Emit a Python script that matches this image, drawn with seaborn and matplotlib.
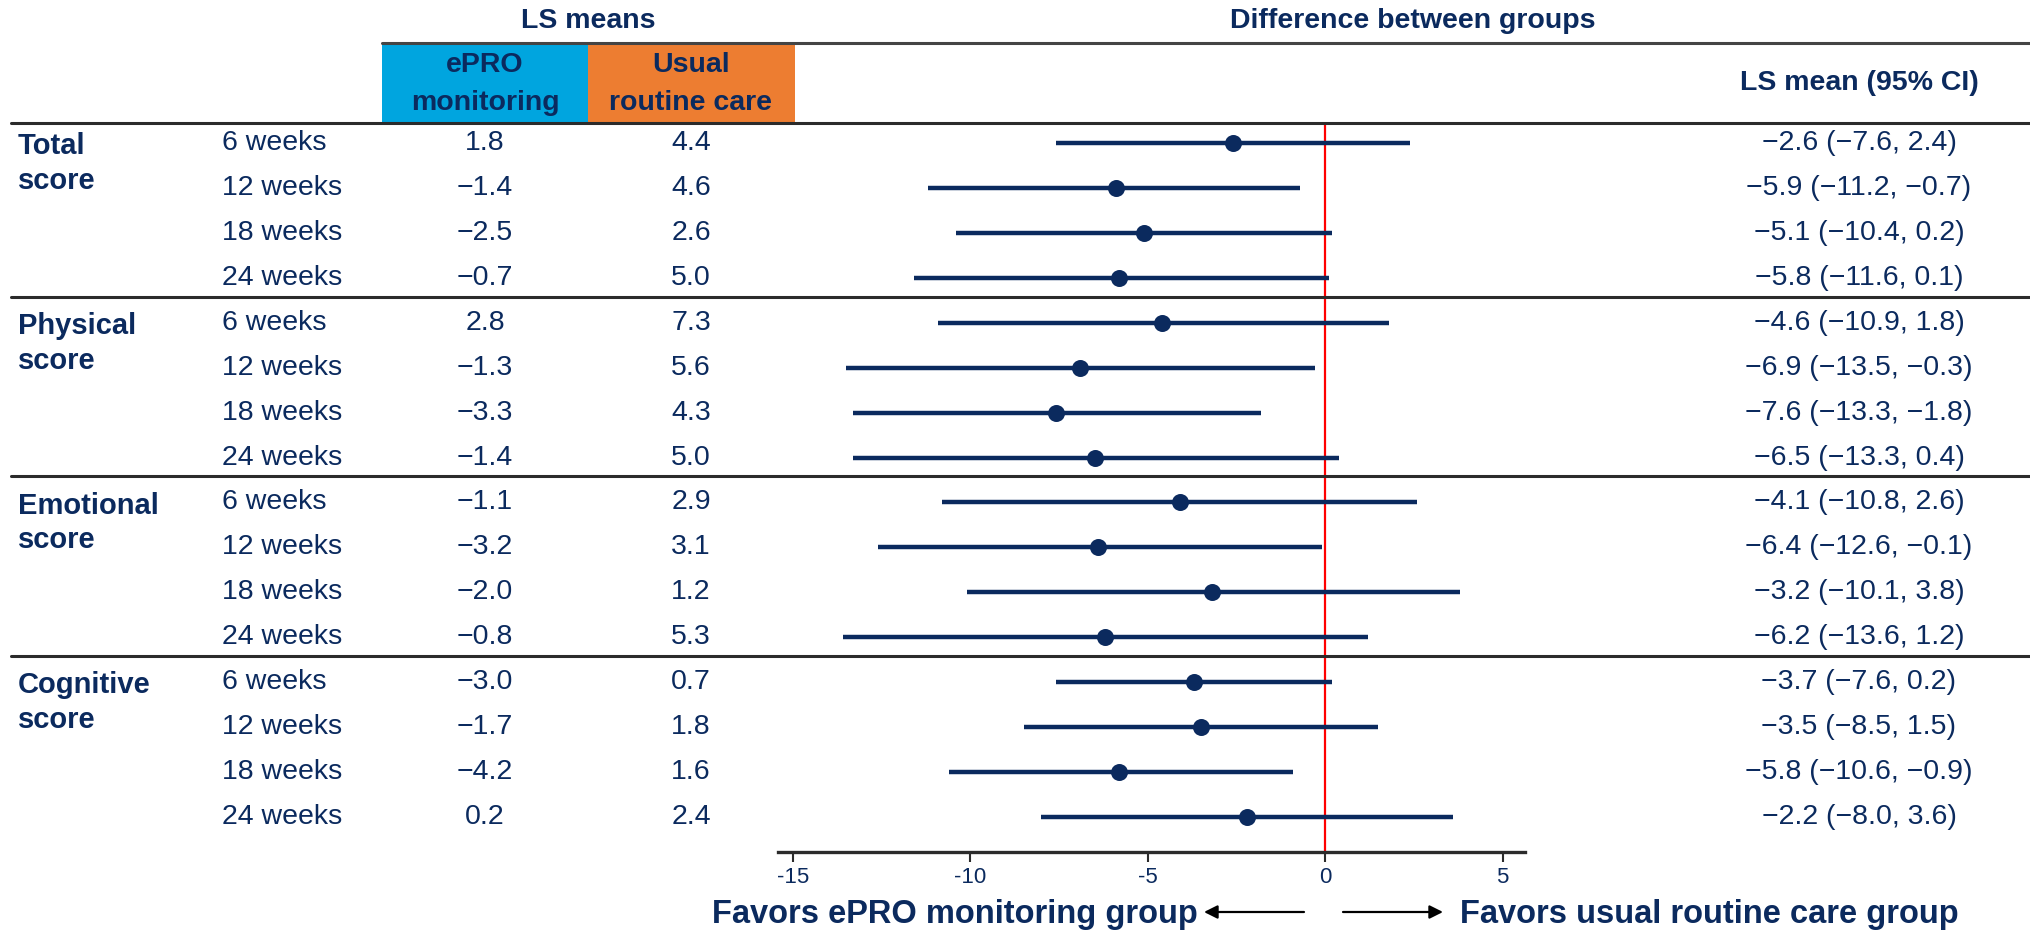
import matplotlib
matplotlib.use("Agg")
import matplotlib.pyplot as plt
from matplotlib.lines import Line2D
from matplotlib.patches import Rectangle, FancyArrowPatch
from matplotlib.transforms import blended_transform_factory
import seaborn as sns
import pandas as pd

# ---- data -------------------------------------------------------------
domains = ["Total\nscore", "Physical\nscore", "Emotional\nscore", "Cognitive\nscore"]
timepoints = ["6 weeks", "12 weeks", "18 weeks", "24 weeks"]

epro_means = [1.8, -1.4, -2.5, -0.7,
              2.8, -1.3, -3.3, -1.4,
              -1.1, -3.2, -2.0, -0.8,
              -3.0, -1.7, -4.2, 0.2]
usual_means = [4.4, 4.6, 2.6, 5.0,
               7.3, 5.6, 4.3, 5.0,
               2.9, 3.1, 1.2, 5.3,
               0.7, 1.8, 1.6, 2.4]
diff_est = [-2.6, -5.9, -5.1, -5.8,
            -4.6, -6.9, -7.6, -6.5,
            -4.1, -6.4, -3.2, -6.2,
            -3.7, -3.5, -5.8, -2.2]
diff_low = [-7.6, -11.2, -10.4, -11.6,
            -10.9, -13.5, -13.3, -13.3,
            -10.8, -12.6, -10.1, -13.6,
            -7.6, -8.5, -10.6, -8.0]
diff_high = [2.4, -0.7, 0.2, 0.1,
             1.8, -0.3, -1.8, 0.4,
             2.6, -0.1, 3.8, 1.2,
             0.2, 1.5, -0.9, 3.6]
x_ticks = [-15, -10, -5, 0, 5]

# ---- style ------------------------------------------------------------
sns.set_theme(style="white")
plt.rcParams["font.family"] = ["Liberation Sans", "DejaVu Sans"]
plt.rcParams["axes.unicode_minus"] = False

NAVY = "#0b2a5e"
BLUE = "#00a5df"
ORANGE = "#ed7d31"
RULE = "#2b2b2b"
FS = 20.5

W, H = 2031, 931
fig = plt.figure(figsize=(W / 100, H / 100), dpi=100)


def fx(px):
    return px / W


def fy(py):
    return 1 - py / H


# forest panel: spans from the header rule down to the x axis
ax_left, ax_right = 778, 1525
ax_top, ax_bot = 123, 852
ax = fig.add_axes([fx(ax_left), fy(ax_bot), fx(ax_right - ax_left), (ax_bot - ax_top) / H])

n_rows = len(diff_est)
row_first, row_last = 143, 817
step = (row_last - row_first) / (n_rows - 1)
ax.set_ylim((ax_bot - row_first) / step, (ax_top - row_first) / step)
ax.set_xlim(-15.42, 5.63)

df = pd.DataFrame({
    "row": range(n_rows),
    "est": diff_est,
    "low": diff_low,
    "high": diff_high,
})

ax.axvline(0, color="#ff0000", lw=1.6, zorder=1)
ax.hlines(df["row"], df["low"], df["high"], color=NAVY, lw=3.2, zorder=2)
sns.scatterplot(data=df, x="est", y="row", ax=ax, color=NAVY, s=150,
                edgecolor=NAVY, linewidth=0, zorder=3, legend=False)

# x axis styling
for side in ["top", "right", "left"]:
    ax.spines[side].set_visible(False)
ax.spines["bottom"].set_color(RULE)
ax.spines["bottom"].set_linewidth(2.4)
ax.set_xticks(x_ticks)
ax.set_xticklabels([str(t) for t in x_ticks])
ax.tick_params(axis="x", direction="out", length=7, width=1.5, color=RULE,
               labelsize=16, labelcolor=NAVY, pad=4, bottom=True)
ax.set_yticks([])
ax.set_xlabel("")
ax.set_ylabel("")
ax.patch.set_alpha(0)

# ---- table text ------------------------------------------------------
row_tf = blended_transform_factory(fig.transFigure, ax.transData)


def fmt(v):
    return f"{v:.1f}".replace("-", "\u2212")


for i in range(n_rows):
    fig.text(fx(222), i, timepoints[i % 4], transform=row_tf, ha="left", va="center",
             fontsize=FS, color=NAVY)
    fig.text(fx(485), i, fmt(epro_means[i]), transform=row_tf, ha="center", va="center",
             fontsize=FS, color=NAVY)
    fig.text(fx(691), i, fmt(usual_means[i]), transform=row_tf, ha="center", va="center",
             fontsize=FS, color=NAVY)
    ci = f"{fmt(diff_est[i])} ({fmt(diff_low[i])}, {fmt(diff_high[i])})"
    fig.text(fx(1859), i, ci, transform=row_tf, ha="center", va="center",
             fontsize=FS, color=NAVY)

for g, name in enumerate(domains):
    fig.text(fx(18), g * 4 - 0.24, name, transform=row_tf, ha="left", va="top",
             fontsize=FS + 0.5, color=NAVY, fontweight="bold", linespacing=1.3)

# group separators
for g in range(1, len(domains)):
    y = g * 4 - 0.58
    fig.add_artist(Line2D([fx(11), 1.0], [y, y], transform=row_tf, color=RULE, lw=2.2))
fig.add_artist(Line2D([fx(11), 1.0], [fy(ax_top), fy(ax_top)], color=RULE, lw=2.2))
fig.add_artist(Line2D([fx(382), 1.0], [fy(43), fy(43)], color="#444444", lw=2.2))

# ---- header ------------------------------------------------------------
fig.add_artist(Rectangle((fx(382), fy(ax_top)), fx(588 - 382), (ax_top - 44) / H,
                         color=BLUE, lw=0, zorder=0))
fig.add_artist(Rectangle((fx(588), fy(ax_top)), fx(795 - 588), (ax_top - 44) / H,
                         color=ORANGE, lw=0, zorder=0))
fig.text(fx(485), fy(84), "ePRO\nmonitoring", ha="center", va="center", fontsize=FS,
         color=NAVY, fontweight="bold", linespacing=1.6)
fig.text(fx(691), fy(84), "Usual\nroutine care", ha="center", va="center", fontsize=FS,
         color=NAVY, fontweight="bold", linespacing=1.6)
fig.text(fx(588), fy(21), "LS means", ha="center", va="center", fontsize=FS,
         color=NAVY, fontweight="bold")
fig.text(fx(1413), fy(21), "Difference between groups", ha="center", va="center",
         fontsize=FS, color=NAVY, fontweight="bold")
fig.text(fx(1859), fy(83), "LS mean (95% CI)", ha="center", va="center", fontsize=FS,
         color=NAVY, fontweight="bold")

# ---- direction captions --------------------------------------------------
fig.text(fx(1198), fy(915), "Favors ePRO monitoring group", ha="right", va="center",
         fontsize=23.5, color=NAVY, fontweight="bold")
fig.text(fx(1460), fy(915), "Favors usual routine care group", ha="left", va="center",
         fontsize=23.5, color=NAVY, fontweight="bold")
arrow_kw = dict(arrowstyle="-|>", color="black", lw=1.6, mutation_scale=20,
                shrinkA=0, shrinkB=0)
fig.add_artist(FancyArrowPatch((fx(1304), fy(912)), (fx(1204), fy(912)),
                               transform=fig.transFigure, **arrow_kw))
fig.add_artist(FancyArrowPatch((fx(1343), fy(912)), (fx(1443), fy(912)),
                               transform=fig.transFigure, **arrow_kw))

fig.savefig("out.png", dpi=100, facecolor="white")
